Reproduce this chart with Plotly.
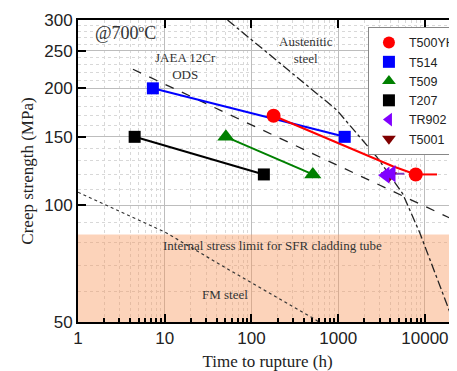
import numpy as np
import plotly.graph_objects as go

# ---- data ----
t500yh_t = [180, 7840]
t500yh_s = [170, 120]
t500yh_line_t = [180, 4260, 7840]
t500yh_line_s = [170, 126, 120]
t500yh_arrow_t = [7840, 15000]

t514_t = [7.3, 1190]
t514_s = [200, 150]

t509_t = [50.7, 510]
t509_s = [150, 120]

t207_t = [4.5, 139]
t207_s = [150, 120]

tr902_t = [3530, 4150]
tr902_s = [119.5, 120.5]
tr902_arrow_t = [4150, 6300]

t5001_t = [3850]
t5001_s = [119]

jaea_t = [4.3, 9440, 23000]
jaea_s = [224, 100, 91]

aust_t = [53, 960, 2800, 5550, 8700, 12300, 21000]
aust_s = [300, 176, 133, 107, 85, 69, 50.6]

fm_t = [1, 10, 56, 510, 900]
fm_s = [108, 85.3, 68, 51.2, 47]

limit_stress = 84
x_ticks = [1, 10, 100, 1000, 10000]
y_ticks = [50, 100, 150, 200, 250, 300]

L = np.log10
serif = "Liberation Serif"
sans = "Liberation Sans"

fig = go.Figure()

# shaded region below internal stress limit
fig.add_trace(go.Scatter(x=[0.5, 40000, 40000, 0.5], y=[40, 40, limit_stress, limit_stress],
                         fill="toself", fillcolor="rgba(248,150,90,0.42)", line=dict(width=0),
                         mode="lines", showlegend=False, hoverinfo="skip"))

# reference lines
fig.add_trace(go.Scatter(x=jaea_t, y=jaea_s, mode="lines", line=dict(color="#222", width=1.3, dash="dash"),
                         showlegend=False))
fig.add_trace(go.Scatter(x=aust_t, y=aust_s, mode="lines", line=dict(color="#222", width=1.3, dash="dashdot"),
                         showlegend=False))
fig.add_trace(go.Scatter(x=fm_t, y=fm_s, mode="lines", line=dict(color="#333", width=1.2, dash="dot"),
                         showlegend=False))

# series lines
fig.add_trace(go.Scatter(x=t514_t, y=t514_s, mode="lines", line=dict(color="#0000ff", width=2), showlegend=False))
fig.add_trace(go.Scatter(x=t500yh_line_t, y=t500yh_line_s, mode="lines", line=dict(color="#ff0000", width=2), showlegend=False))
fig.add_trace(go.Scatter(x=t509_t, y=t509_s, mode="lines", line=dict(color="#008000", width=2), showlegend=False))
fig.add_trace(go.Scatter(x=t207_t, y=t207_s, mode="lines", line=dict(color="#000000", width=2), showlegend=False))
fig.add_trace(go.Scatter(x=tr902_arrow_t[:1] + [tr902_arrow_t[1] * 0.92], y=[tr902_s[1]] * 2, mode="lines",
                         line=dict(color="#7f3fbf", width=2), showlegend=False))
fig.add_trace(go.Scatter(x=t500yh_arrow_t[:1] + [t500yh_arrow_t[1] * 0.92], y=[t500yh_s[1]] * 2, mode="lines",
                         line=dict(color="#ff0000", width=2), showlegend=False))

# markers (legend)
fig.add_trace(go.Scatter(x=t500yh_t, y=t500yh_s, mode="markers", name="T500YH",
                         marker=dict(symbol="circle", size=14, color="#ff0000")))
fig.add_trace(go.Scatter(x=t514_t, y=t514_s, mode="markers", name="T514",
                         marker=dict(symbol="square", size=12, color="#0000ff")))
fig.add_trace(go.Scatter(x=t509_t, y=t509_s, mode="markers", name="T509",
                         marker=dict(symbol="triangle-up", size=15, color="#008000")))
fig.add_trace(go.Scatter(x=t207_t, y=t207_s, mode="markers", name="T207",
                         marker=dict(symbol="square", size=12, color="#000000")))
fig.add_trace(go.Scatter(x=t5001_t, y=t5001_s, mode="markers", name="T5001",
                         marker=dict(symbol="triangle-down", size=14, color="#800000"), legendrank=1006))
fig.add_trace(go.Scatter(x=tr902_t, y=tr902_s, mode="markers", name="TR902",
                         marker=dict(symbol="triangle-left", size=15, color="#8000ff"), legendrank=1005))

# dummy trace for top axis
fig.add_trace(go.Scatter(x=[1], y=[100], xaxis="x2", mode="markers", marker=dict(opacity=0),
                         showlegend=False, hoverinfo="skip"))

# arrowheads
fig.add_annotation(x=L(t500yh_arrow_t[1]), y=L(t500yh_s[1]), ax=L(t500yh_arrow_t[1] * 0.9), ay=L(t500yh_s[1]),
                   xref="x", yref="y", axref="x", ayref="y", showarrow=True, arrowhead=2, arrowsize=1.2,
                   arrowwidth=2, arrowcolor="#ff0000", text="")
fig.add_annotation(x=L(tr902_arrow_t[1]), y=L(tr902_s[1]), ax=L(tr902_arrow_t[1] * 0.9), ay=L(tr902_s[1]),
                   xref="x", yref="y", axref="x", ayref="y", showarrow=True, arrowhead=2, arrowsize=1.2,
                   arrowwidth=2, arrowcolor="#7f3fbf", text="")

# text labels
def txt(x, y, s, size=13):
    fig.add_annotation(x=L(x), y=L(y), text=s, showarrow=False, xref="x", yref="y",
                       font=dict(family=serif, size=size, color="#333"))

txt(3.57, 277, "@700ºC", 18)
txt(17.5, 228, "JAEA 12Cr<br>ODS", 13)
txt(424, 251, "Austenitic<br>steel", 13)
txt(177, 78.5, "Internal stress limit for SFR cladding tube", 13)
txt(49.4, 59, "FM steel", 13)

minor_x = [m * 10 ** d for d in range(0, 5) for m in range(2, 10)]
minor_y = [v for v in range(60, 300, 10) if v not in y_ticks]

fig.update_layout(
    width=457, height=371,
    margin=dict(l=70, r=8, t=12, b=57, autoexpand=False),
    paper_bgcolor="white", plot_bgcolor="white",
    font=dict(family=sans, size=17, color="#222"),
    showlegend=True,
    legend=dict(x=0.765, y=0.977, xanchor="left", yanchor="top", bgcolor="white",
                bordercolor="#888", borderwidth=1, font=dict(family=sans, size=12.5, color="#222"),
                tracegroupgap=0, itemsizing="constant"),
    xaxis=dict(type="log", range=[0, 4.37], tickvals=x_ticks, ticktext=[str(v) for v in x_ticks],
               showgrid=True, gridcolor="#bdbdbd", gridwidth=1,
               ticks="inside", ticklen=8, tickwidth=2, tickcolor="black",
               showline=True, linecolor="black", linewidth=2,
               minor=dict(tickvals=minor_x, ticks="inside", ticklen=4, tickwidth=1.5, tickcolor="black",
                          showgrid=True, gridcolor="#d8d8d8", griddash="dot", gridwidth=1),
               title=dict(text="Time to rupture (h)", font=dict(family=serif, size=17, color="#222"), standoff=8),
               zeroline=False),
    xaxis2=dict(type="log", range=[0, 4.37], overlaying="x", side="top", tickvals=x_ticks,
                showticklabels=False, ticks="inside", ticklen=8, tickwidth=2, tickcolor="black",
                showline=True, linecolor="black", linewidth=2, showgrid=False),
    yaxis=dict(type="log", range=[L(50), L(300)], tickvals=y_ticks, ticktext=[str(v) for v in y_ticks],
               showgrid=True, gridcolor="#bdbdbd", gridwidth=1,
               ticks="inside", ticklen=8, tickwidth=2, tickcolor="black",
               showline=True, linecolor="black", linewidth=2,
               minor=dict(tickvals=minor_y, ticks="", showgrid=True, gridcolor="#d8d8d8",
                          griddash="dot", gridwidth=1),
               title=dict(text="Creep strength (MPa)", font=dict(family=serif, size=17, color="#222"), standoff=6),
               zeroline=False),
)

fig.write_html("out.html")
